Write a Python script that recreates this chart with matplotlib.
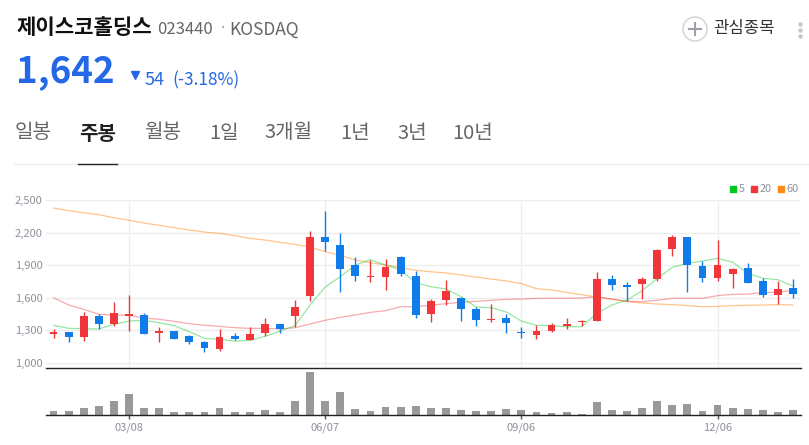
import matplotlib
matplotlib.use("Agg")
import matplotlib.pyplot as plt
from matplotlib.patches import Circle

plt.rcParams['font.family'] = ['Noto Sans CJK KR', 'DejaVu Sans']

# weekly candles
opens = [1270, 1282, 1239, 1432, 1356, 1432, 1442, 1273, 1294, 1248, 1190, 1129, 1248, 1212, 1273,
         1359, 1432, 1616, 2156, 2086, 1899, 1791, 1791, 1975, 1804, 1454, 1577, 1598, 1494, 1393,
         1414, 1285, 1258, 1294, 1343, 1374, 1386, 1776, 1718, 1727, 1773, 2052, 2159, 1896, 1782,
         1819, 1874, 1757, 1623, 1690]
closes = [1288, 1239, 1432, 1359, 1460, 1451, 1270, 1291, 1224, 1193, 1138, 1236, 1224, 1270, 1359,
          1313, 1515, 2156, 2113, 1868, 1800, 1800, 1883, 1816, 1439, 1573, 1662, 1497, 1393, 1408,
          1368, 1279, 1294, 1350, 1362, 1386, 1773, 1718, 1699, 1773, 2037, 2159, 1905, 1782, 1902,
          1865, 1736, 1623, 1684, 1638]
highs = [1310, 1285, 1469, 1451, 1561, 1626, 1457, 1331, 1294, 1258, 1202, 1316, 1276, 1331, 1414,
         1359, 1580, 2214, 2399, 2196, 1975, 1948, 1960, 1985, 1850, 1589, 1764, 1604, 1515, 1543,
         1451, 1331, 1346, 1365, 1414, 1396, 1837, 1807, 1745, 1791, 2049, 2178, 2159, 1935, 2132,
         1872, 1920, 1782, 1754, 1776]
lows = [1233, 1196, 1202, 1313, 1343, 1297, 1270, 1190, 1221, 1175, 1101, 1110, 1209, 1212, 1248,
        1273, 1334, 1570, 2034, 1653, 1757, 1745, 1672, 1800, 1414, 1374, 1534, 1386, 1343, 1377,
        1276, 1230, 1224, 1285, 1316, 1340, 1386, 1672, 1573, 1589, 1757, 1988, 1653, 1745, 1754,
        1693, 1736, 1604, 1543, 1598]

ma5 = [1347, 1319, 1316, 1313, 1356, 1386, 1393, 1371, 1343, 1288, 1227, 1218, 1202, 1209, 1245,
       1294, 1343, 1534, 1699, 1794, 1902, 1951, 1902, 1856, 1739, 1702, 1681, 1610, 1515, 1509,
       1469, 1386, 1347, 1343, 1334, 1334, 1457, 1534, 1580, 1665, 1779, 1880, 1917, 1938, 1963,
       1929, 1825, 1779, 1767, 1708]
ma20 = [1601, 1534, 1494, 1448, 1442, 1439, 1414, 1402, 1383, 1362, 1347, 1337, 1325, 1319, 1319,
        1313, 1325, 1359, 1393, 1420, 1442, 1466, 1482, 1518, 1518, 1531, 1546, 1558, 1567, 1577,
        1586, 1589, 1595, 1595, 1595, 1598, 1610, 1589, 1567, 1564, 1577, 1595, 1595, 1595, 1620,
        1632, 1635, 1647, 1653, 1669]
ma60 = [2426, 2402, 2383, 2365, 2337, 2313, 2288, 2267, 2245, 2224, 2205, 2193, 2172, 2147, 2132,
        2110, 2092, 2067, 2024, 1991, 1948, 1923, 1902, 1877, 1853, 1840, 1828, 1810, 1791, 1773,
        1755, 1730, 1684, 1672, 1650, 1629, 1607, 1586, 1567, 1552, 1543, 1537, 1528, 1518, 1521,
        1528, 1531, 1534, 1537, 1534]
volume = [12, 12, 19, 25, 40, 60, 21, 21, 10, 9, 9, 21, 9, 9, 15, 9, 40, 123, 39, 66, 18, 12, 24, 22,
          27, 21, 20, 15, 12, 12, 18, 14, 8, 5, 8, 3, 36, 15, 12, 20, 39, 30, 33, 12, 30, 21, 18, 13, 9, 13]

price_ticks = [1000, 1300, 1600, 1900, 2200, 2500]
price_labels = ['1,000', '1,300', '1,600', '1,900', '2,200', '2,500']
date_ticks = [5, 18, 31, 44]
date_labels = ['03/08', '06/07', '09/06', '12/06']
ma_names = ['5', '20', '60']

W, H = 809, 445
RED = '#f0353b'
BLUE = '#0f7cea'
GRID = '#eeeeee'
TICK = '#8b919c'


def box(left, top, right, bottom):
    return [left / W, 1 - bottom / H, (right - left) / W, (bottom - top) / H]


fig = plt.figure(figsize=(W / 100, H / 100), dpi=100, facecolor='white')

# header, drawn in pixel coordinates
top = fig.add_axes([0, 0, 1, 1])
top.set_xlim(0, W)
top.set_ylim(H, 0)
top.axis('off')

top.text(17, 28, '제이스코홀딩스', fontsize=15.2, fontweight='bold', color='#111111', va='center')
top.text(157, 30, '023440', fontsize=12, color='#666666', va='center')
top.text(219, 29, '·', fontsize=11, color='#999999', va='center')
top.text(229, 30, 'KOSDAQ', fontsize=12.5, color='#666666', va='center')
top.text(16, 72, '1,642', fontsize=26.5, fontweight='bold', color='#2468e8', va='center')
top.plot([135], [75], marker='v', ms=5.5, color='#2468e8', ls='none')
top.text(145, 80, '54', fontsize=13, color='#2468e8', va='center')
top.text(172, 80, '(-3.18%)', fontsize=12.5, color='#2468e8', va='center')

tabs = ['일봉', '주봉', '월봉', '1일', '3개월', '1년', '3년', '10년']
tab_x = [15, 79, 144, 209, 264, 340, 397, 452]
for label, x in zip(tabs, tab_x):
    sel = label == '주봉'
    top.text(x, 133, label, fontsize=14.5, va='center',
             fontweight='bold' if sel else 'normal', color='#222222' if sel else '#666666')
top.plot([14, 809], [164, 164], color='#eeeeee', lw=1)
top.plot([78, 117], [164, 164], color='#222222', lw=1)

top.add_patch(Circle((695, 29), 12, fc='white', ec='#d5d8de', lw=1.2))
top.plot([689, 701], [29, 29], color='#9a9fa8', lw=1.5)
top.plot([695, 695], [23, 35], color='#9a9fa8', lw=1.5)
top.text(713, 29, '관심종목', fontsize=12, color='#333333', va='center')
top.plot([800, 800, 800], [24, 30, 36], ls='none', marker='o', ms=2.2, color='#c4c7cc')

# legend
for name, x, tx, c in zip(ma_names, [733, 754.5, 781], [739, 760, 786], ['#00c81e', RED, '#ff8a14']):
    top.plot([x], [189], marker='s', ms=4.6, color=c, ls='none')
    top.text(tx, 189, name, fontsize=7.8, color=TICK, va='center')

# price panel
ax = fig.add_axes(box(46, 200, 801, 368))
ax.set_xlim(-0.5, 49.53)
ax.set_ylim(954, 2500)
xs = list(range(len(opens)))

ax.set_yticks(price_ticks, price_labels)
ax.set_xticks(date_ticks)
ax.grid(True, color=GRID, lw=1)
ax.set_axisbelow(True)
ax.tick_params(axis='y', length=0, labelsize=8, labelcolor=TICK, pad=2.5)
ax.tick_params(axis='x', length=0, labelbottom=False)
for s in ['top', 'left', 'right']:
    ax.spines[s].set_visible(False)
ax.spines['bottom'].set_color('#222222')
ax.spines['bottom'].set_linewidth(1)
ax.patch.set_alpha(0)

ax.plot(xs, ma60, color='#ff8a14', lw=0.9, alpha=0.5)
ax.plot(xs, ma20, color='#f0353b', lw=0.9, alpha=0.42)
ax.plot(xs, ma5, color='#00c81e', lw=0.9, alpha=0.42)

for i in xs:
    c = RED if closes[i] >= opens[i] else BLUE
    ax.vlines(i, lows[i], highs[i], color=c, lw=1, zorder=3)
    ax.bar(i, abs(closes[i] - opens[i]), bottom=min(opens[i], closes[i]), width=0.52, color=c, zorder=3)

# volume panel
vol = fig.add_axes(box(46, 368, 801, 415))
vol.set_xlim(-0.5, 49.53)
vol.set_ylim(0, 135)
vol.bar(xs, volume, width=0.52, color='#999999')
vol.set_yticks([])
vol.set_xticks(date_ticks, date_labels)
vol.tick_params(axis='x', length=3, width=1, color='#555555', labelsize=8, labelcolor=TICK, pad=2.5)
for s in ['top', 'left', 'right']:
    vol.spines[s].set_visible(False)
vol.spines['bottom'].set_color('#222222')
vol.spines['bottom'].set_linewidth(1)
vol.patch.set_alpha(0)

fig.savefig('out.png', dpi=100, facecolor='white')
